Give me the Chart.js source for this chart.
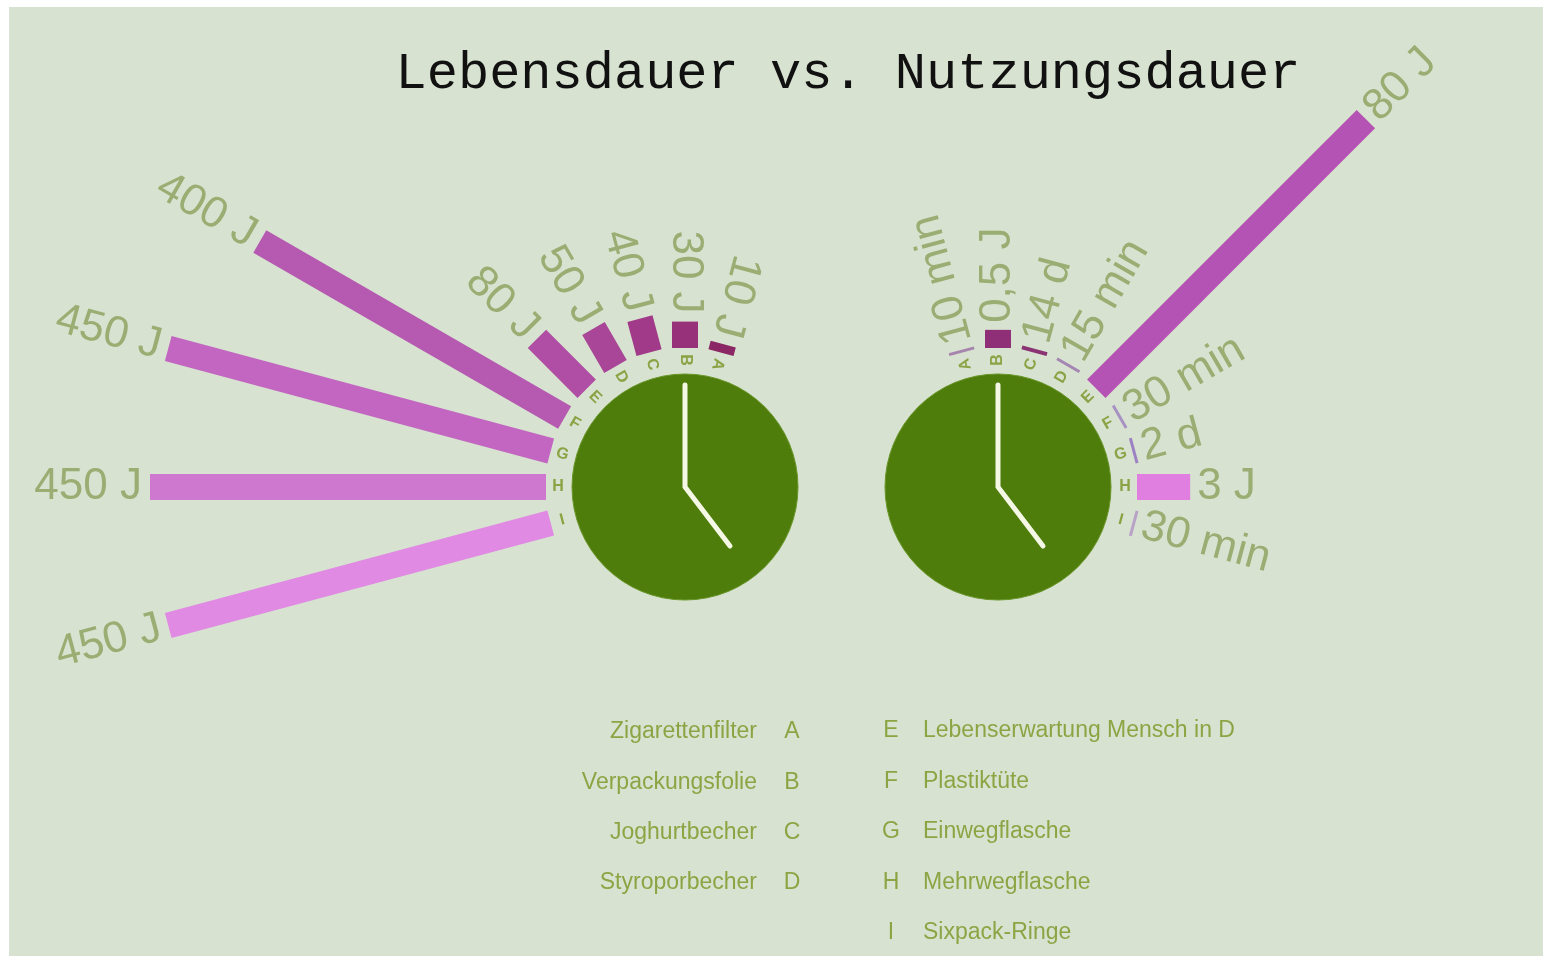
<!DOCTYPE html>
<html>
<head>
<meta charset="utf-8">
<script src="https://cdn.jsdelivr.net/npm/chart.js@4.4.1/dist/chart.umd.min.js"></script>
<style>
  html, body { margin: 0; padding: 0; background: #fff; overflow: hidden; }
  canvas { display: block; }
</style>
</head>
<body>
<canvas id="chart" width="1543" height="956"></canvas>
<script>
// Gegenstände A-I
const letters = ['A', 'B', 'C', 'D', 'E', 'F', 'G', 'H', 'I'];
const items = ['Zigarettenfilter', 'Verpackungsfolie', 'Joghurtbecher', 'Styroporbecher',
  'Lebenserwartung Mensch in D', 'Plastiktüte', 'Einwegflasche', 'Mehrwegflasche', 'Sixpack-Ringe'];

// Lebensdauer (linke Uhr), in Jahren
const lifeYears = [10, 30, 40, 50, 80, 400, 450, 450, 450];
const lifeLabels = ['10 J', '30 J', '40 J', '50 J', '80 J', '400 J', '450 J', '450 J', '450 J'];

// Nutzungsdauer (rechte Uhr), in Jahre umgerechnet
const MINUTE = 1 / 525960, DAY = 1 / 365.25;
const useYears = [10 * MINUTE, 0.5, 14 * DAY, 15 * MINUTE, 80, 30 * MINUTE, 2 * DAY, 3, 30 * MINUTE];
const useLabels = ['10 min', '0,5 J', '14 d', '15 min', '80 J', '30 min', '2 d', '3 J', '30 min'];

const title = 'Lebensdauer vs. Nutzungsdauer';

// Farben
const lifeColors = ['#8b2764', '#96317a', '#a13a88', '#a94697', '#b04ea5', '#b659b1', '#c266c1', '#cf78cf', '#e08ae3'];
const useColors = ['#a684ad', '#8e2f78', '#8a3272', '#a486b2', '#b453b3', '#a892c4', '#9c82c2', '#e07fe0', '#b8a2c8'];
const BG = '#d7e3d0', CLOCK = '#4e7d0c', HAND = '#f5f8e4';
const LABEL_COLOR = '#9aad72', LETTER_COLOR = '#8aa344', LEGEND_COLOR = '#8ca544';

// Aufbau
const leftClock = { x: 685, y: 487 };
const rightClock = { x: 998, y: 487 };
const R_CLOCK = 113, R_LETTER = 127, R_BAR = 139, BAR_W = 26;

function polar(c, deg, r) {
  const a = deg * Math.PI / 180;
  return { x: c.x + r * Math.sin(a), y: c.y - r * Math.cos(a) };
}
const leftAngle = i => 15 - 15 * i;
const rightAngle = i => -15 + 15 * i;
const leftLen = v => v * 0.88;
const rightLen = v => Math.max(3, 27.5 * Math.pow(v, 0.6));

const datasets = [];

// Zeiger
[leftClock, rightClock].forEach(c => {
  datasets.push({
    data: [{ x: c.x, y: c.y - 102 }, { x: c.x, y: c.y }, { x: c.x + 45, y: c.y + 59 }],
    showLine: true, borderColor: HAND, borderWidth: 5, pointRadius: 0,
    borderCapStyle: 'round', borderJoinStyle: 'miter', order: 0
  });
});

// Balken
function addBars(clock, values, angleFn, lenFn, colors) {
  values.forEach((v, i) => {
    const a = angleFn(i);
    datasets.push({
      data: [polar(clock, a, R_BAR), polar(clock, a, R_BAR + lenFn(v))],
      showLine: true, borderColor: colors[i], borderWidth: BAR_W, pointRadius: 0,
      borderCapStyle: 'butt', order: 1
    });
  });
}
addBars(leftClock, lifeYears, leftAngle, leftLen, lifeColors);
addBars(rightClock, useYears, rightAngle, rightLen, useColors);

// Zifferblätter
datasets.push({
  data: [leftClock, rightClock],
  pointRadius: R_CLOCK, pointBackgroundColor: CLOCK, pointBorderColor: '#6a962a',
  pointBorderWidth: 1, showLine: false, order: 2
});

const overlay = {
  id: 'overlay',
  beforeDraw(chart) {
    const ctx = chart.ctx;
    ctx.save();
    ctx.fillStyle = '#fff';
    ctx.fillRect(0, 0, chart.width, chart.height);
    ctx.fillStyle = BG;
    ctx.fillRect(9, 7, chart.width - 9, chart.height - 7);
    ctx.restore();
  },
  afterDatasetsDraw(chart) {
    const ctx = chart.ctx;
    const sx = chart.scales.x, sy = chart.scales.y;
    const px = p => ({ x: sx.getPixelForValue(p.x), y: sy.getPixelForValue(p.y) });

    function rotText(text, p, rot, align, font, color) {
      ctx.save();
      ctx.translate(p.x, p.y);
      ctx.rotate(rot);
      ctx.font = font;
      ctx.fillStyle = color;
      ctx.textAlign = align;
      ctx.textBaseline = 'middle';
      ctx.fillText(text, 0, 0);
      ctx.restore();
    }

    const labelFont = '44px "Liberation Sans", Arial, sans-serif';
    const letterFont = '600 16px "Liberation Sans", Arial, sans-serif';

    // linke Uhr: Text läuft zur Mitte hin
    lifeYears.forEach((v, i) => {
      const a = leftAngle(i) * Math.PI / 180;
      const rot = Math.atan2(Math.cos(a), -Math.sin(a));
      rotText(lifeLabels[i], px(polar(leftClock, leftAngle(i), R_BAR + leftLen(v) + 8)), rot, 'right', labelFont, LABEL_COLOR);
      rotText(letters[i], px(polar(leftClock, leftAngle(i), R_LETTER)), rot, 'center', letterFont, LETTER_COLOR);
    });
    // rechte Uhr: Text läuft nach außen
    useYears.forEach((v, i) => {
      const a = rightAngle(i) * Math.PI / 180;
      const rot = Math.atan2(-Math.cos(a), Math.sin(a));
      rotText(useLabels[i], px(polar(rightClock, rightAngle(i), R_BAR + rightLen(v) + 7)), rot, 'left', labelFont, LABEL_COLOR);
      rotText(letters[i], px(polar(rightClock, rightAngle(i), R_LETTER)), rot, 'center', letterFont, LETTER_COLOR);
    });

    // Legende
    ctx.save();
    ctx.fillStyle = LEGEND_COLOR;
    ctx.textBaseline = 'middle';
    ctx.font = '23px "Liberation Sans", Arial, sans-serif';
    items.forEach((name, i) => {
      if (i < 4) {
        const y = 732 + i * 50.3;
        ctx.textAlign = 'right';
        ctx.fillText(name, 757, y);
        ctx.textAlign = 'center';
        ctx.fillText(letters[i], 792, y);
      } else {
        const y = 731 + (i - 4) * 50.5;
        ctx.textAlign = 'center';
        ctx.fillText(letters[i], 891, y);
        ctx.textAlign = 'left';
        ctx.fillText(name, 923, y);
      }
    });
    ctx.restore();

    // Titel
    ctx.save();
    ctx.font = '52px "Liberation Mono", "Courier New", monospace';
    ctx.fillStyle = '#111';
    ctx.textAlign = 'center';
    ctx.textBaseline = 'alphabetic';
    ctx.fillText(title, 848, 88);
    ctx.restore();
  }
};

new Chart(document.getElementById('chart'), {
  type: 'scatter',
  data: { datasets: datasets },
  options: {
    responsive: false,
    animation: false,
    events: [],
    layout: { padding: 0, autoPadding: false },
    plugins: { legend: { display: false }, tooltip: { enabled: false }, title: { display: false } },
    scales: {
      x: { type: 'linear', min: 0, max: 1543, display: false },
      y: { type: 'linear', min: 0, max: 956, reverse: true, display: false }
    },
    elements: { line: { tension: 0 } },
    clip: false
  },
  plugins: [overlay]
});
</script>
</body>
</html>
